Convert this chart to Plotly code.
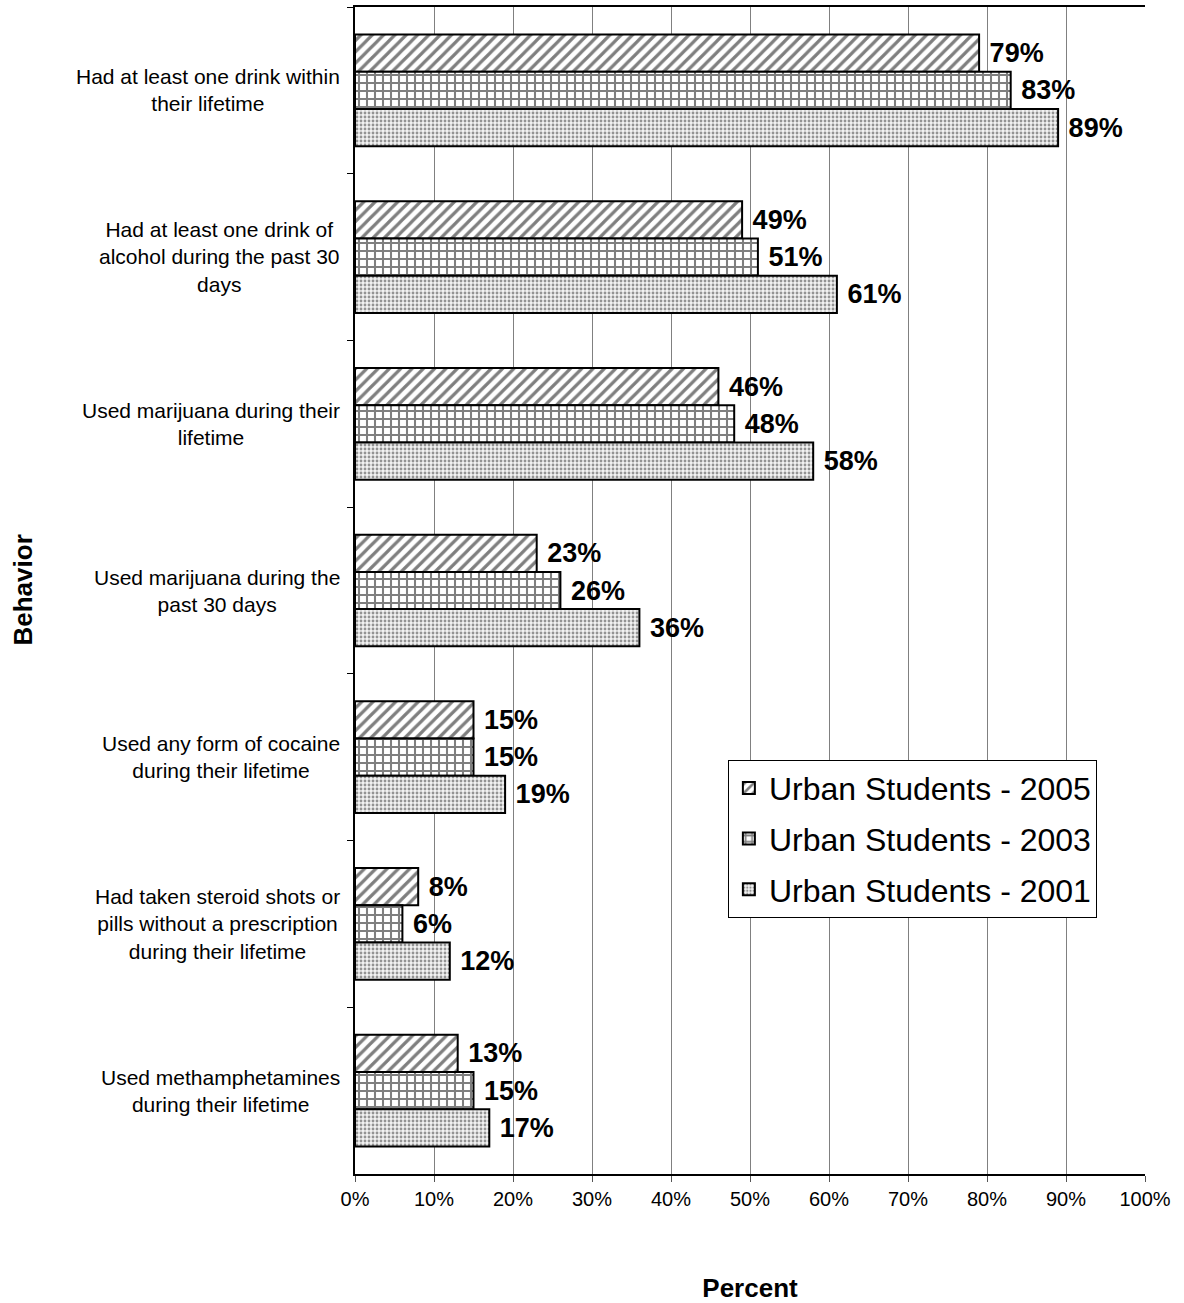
import plotly.graph_objects as go

FONT = "Liberation Sans, Arial, sans-serif"

behaviors = [
    "Had at least one drink within<br>their lifetime",
    "Had at least one drink of<br>alcohol during the past 30<br>days",
    "Used marijuana during their<br>lifetime",
    "Used marijuana during the<br>past 30 days",
    "Used any form of cocaine<br>during their lifetime",
    "Had taken steroid shots or<br>pills without a prescription<br>during their lifetime",
    "Used methamphetamines<br>during their lifetime",
]

series_names = ["Urban Students - 2005", "Urban Students - 2003", "Urban Students - 2001"]
pct_2005 = [79, 49, 46, 23, 15, 8, 13]
pct_2003 = [83, 51, 48, 26, 15, 6, 15]
pct_2001 = [89, 61, 58, 36, 19, 12, 17]

x_ticks = [0, 10, 20, 30, 40, 50, 60, 70, 80, 90, 100]
x_tick_labels = [f"{v}%" for v in x_ticks]

patterns = [
    dict(shape="/", fgcolor="#000000", bgcolor="#ffffff", size=8, solidity=0.4),
    dict(shape="+", fgcolor="#000000", bgcolor="#ffffff", size=8, solidity=0.45),
    dict(shape=".", fgcolor="#333333", bgcolor="#f2f2f2", size=4, solidity=0.4),
]

fig = go.Figure()
for name, vals, pat in zip(series_names, [pct_2005, pct_2003, pct_2001], patterns):
    fig.add_trace(go.Bar(
        y=behaviors,
        x=vals,
        name=name,
        legendgroup=name,
        orientation="h",
        marker=dict(color="#ffffff", pattern=pat, line=dict(color="#000000", width=2)),
        text=[f"\u00a0{v}%" for v in vals],
        textposition="outside",
        constraintext="none",
        cliponaxis=False,
        textfont=dict(family=FONT, size=27, color="#000000", weight="bold"),
    ))

# category labels, centered line by line, to the left of the axis
for b in behaviors:
    fig.add_annotation(
        x=0, xref="paper", xanchor="right", xshift=-13,
        y=b, yref="y", yanchor="middle",
        text=b, showarrow=False, align="center",
        font=dict(family=FONT, size=21, color="#000000"),
    )

fig.add_annotation(
    x=0, xref="paper", xshift=-333, xanchor="center",
    y=0.5, yref="paper", yanchor="middle",
    text="<b>Behavior</b>", textangle=-90, showarrow=False,
    font=dict(family=FONT, size=26, color="#000000"),
)

fig.update_layout(
    width=1184, height=1303,
    margin=dict(l=355, r=39, t=5, b=124),
    paper_bgcolor="#ffffff", plot_bgcolor="#ffffff",
    barmode="group", bargap=0.33, bargroupgap=0,
    font=dict(family=FONT, size=20, color="#000000"),
    showlegend=True,
    legend=dict(
        x=0.472, y=0.355, xanchor="left", yanchor="top",
        bordercolor="#000000", borderwidth=1, bgcolor="#ffffff",
        font=dict(family=FONT, size=32, color="#000000"),
        traceorder="grouped", tracegroupgap=6,
    ),
    xaxis=dict(
        range=[0, 100], tickvals=x_ticks, ticktext=x_tick_labels,
        showgrid=True, gridcolor="#808080", gridwidth=1,
        showline=True, linecolor="#000000", linewidth=2, mirror=True,
        ticks="outside", ticklen=6, tickcolor="#555555",
        tickfont=dict(family=FONT, size=20),
        zeroline=False,
        title=dict(text="<b>Percent</b>", font=dict(family=FONT, size=26), standoff=70),
    ),
    yaxis=dict(
        categoryorder="array", categoryarray=behaviors, autorange="reversed",
        showticklabels=False, showgrid=False,
        showline=True, linecolor="#000000", linewidth=2,
        ticks="outside", ticklen=6, tickcolor="#000000", tickson="boundaries",
        zeroline=False,
    ),
)

fig.write_html("out.html")
